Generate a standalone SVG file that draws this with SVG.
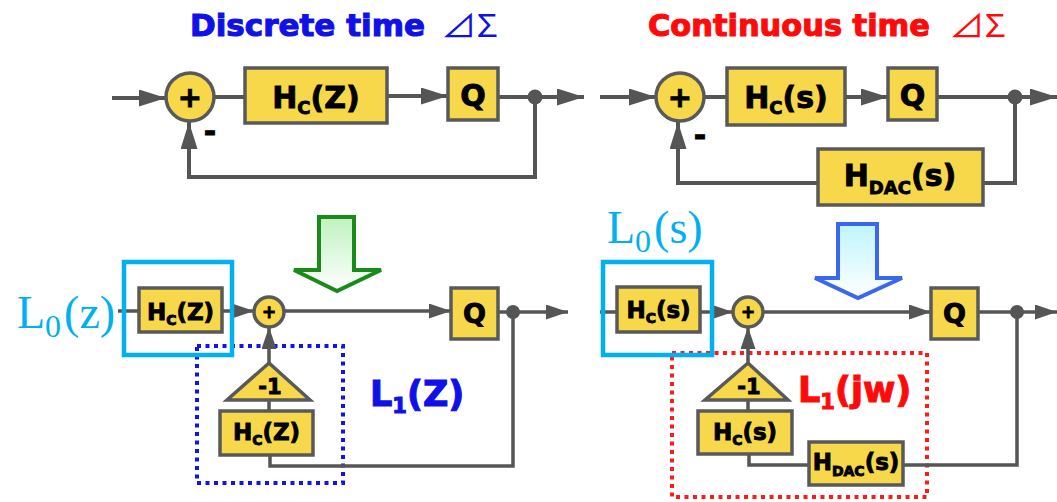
<svg xmlns="http://www.w3.org/2000/svg" width="1057" height="502" viewBox="0 0 1057 502">
<style>
.b{font-family:"DejaVu Sans","Liberation Sans",sans-serif;font-weight:bold;fill:#000;stroke:#000;stroke-width:0.9;text-anchor:middle}
.blk{fill:#f7d84a;stroke:#595959;stroke-width:3.5}
.ln{fill:none;stroke:#555;stroke-width:4;stroke-linejoin:miter}
.ln2{fill:none;stroke:#555;stroke-width:3.5}
.math{font-family:"Liberation Serif","DejaVu Serif",serif;fill:#00b0f0}
.cy{fill:none;stroke:#00b0f0;stroke-width:4.5}
.dot{fill:#555}
.ttl{font-family:"DejaVu Sans",sans-serif;font-weight:bold;font-size:30px;stroke-width:1.1}
.sym{font-family:"Noto Sans CJK JP","DejaVu Sans",sans-serif;font-size:31px}
</style>
<defs>
<marker id="a1" markerUnits="userSpaceOnUse" markerWidth="27" markerHeight="17" refX="27" refY="8.5" orient="auto"><path d="M0,0 L27,8.5 L0,17 z" fill="#555"/></marker>
<marker id="a2" markerUnits="userSpaceOnUse" markerWidth="22" markerHeight="15" refX="22" refY="7.5" orient="auto"><path d="M0,0 L22,7.5 L0,15 z" fill="#555"/></marker>
<linearGradient id="gg" x1="0" y1="0" x2="0" y2="1"><stop offset="0" stop-color="#bff2bf"/><stop offset="1" stop-color="#ffffff"/></linearGradient>
<linearGradient id="gb" x1="0" y1="0" x2="0" y2="1"><stop offset="0" stop-color="#bff5ff"/><stop offset="1" stop-color="#ffffff"/></linearGradient>
</defs>

<g id="titles">
<text class="ttl" x="190" y="36" fill="#1010e8" stroke="#1010e8" textLength="235" lengthAdjust="spacingAndGlyphs">Discrete time</text>
<text class="sym" x="441" y="37" fill="#1010e8" textLength="57" lengthAdjust="spacingAndGlyphs">⊿Σ</text>
<text class="ttl" x="648" y="36" fill="#ff0a0a" stroke="#ff0a0a" textLength="282" lengthAdjust="spacingAndGlyphs">Continuous time</text>
<text class="sym" x="949" y="37" fill="#ff0a0a" textLength="57" lengthAdjust="spacingAndGlyphs">⊿Σ</text>
</g>

<g id="regions">
<rect x="197" y="346" width="146" height="137" fill="none" stroke="#1212ee" stroke-width="4" stroke-dasharray="4 4.5"/>
<rect x="672" y="353" width="255" height="144" fill="none" stroke="#ff1a1a" stroke-width="4" stroke-dasharray="4 4.5"/>
</g>

<g id="connectors">
<path class="ln" d="M112,98 H166" marker-end="url(#a1)"/>
<path class="ln" d="M214,97 H245"/>
<path class="ln" d="M387,96 H448" marker-end="url(#a1)"/>
<path class="ln" d="M498,97 H584" marker-end="url(#a1)"/>
<path class="ln" d="M535,97 V177 H189 V122" marker-end="url(#a1)"/>
<path class="ln" d="M600,97 H656" marker-end="url(#a1)"/>
<path class="ln" d="M704,97 H727"/>
<path class="ln" d="M845,97 H888" marker-end="url(#a1)"/>
<path class="ln" d="M937,97 H1057" marker-end="url(#a1)"/>
<path class="ln" d="M1015,97 V183 H983"/>
<path class="ln" d="M818,183 H678 V122" marker-end="url(#a1)"/>
<path class="ln2" d="M118,311 H139"/>
<path class="ln2" d="M222,311 H254" marker-end="url(#a2)"/>
<path class="ln2" d="M284,311 H451" marker-end="url(#a2)"/>
<path class="ln2" d="M498,312 H568" marker-end="url(#a2)"/>
<path class="ln2" d="M513,312 V466 H270 V455"/>
<path class="ln2" d="M269,411 V400"/>
<path class="ln2" d="M269,363 V327" marker-end="url(#a2)"/>
<path class="ln2" d="M600,312 H617"/>
<path class="ln2" d="M700,312 H733" marker-end="url(#a2)"/>
<path class="ln2" d="M763,312 H931" marker-end="url(#a2)"/>
<path class="ln2" d="M978,312 H1057" marker-end="url(#a2)"/>
<path class="ln2" d="M1017,312 V465 H903"/>
<path class="ln2" d="M809,465 H749 V454"/>
<path class="ln2" d="M748,411 V400"/>
<path class="ln2" d="M748,363 V327" marker-end="url(#a2)"/>
<circle class="dot" cx="535" cy="97" r="7.5"/>
<circle class="dot" cx="1015" cy="97" r="7.5"/>
<circle class="dot" cx="513" cy="312" r="7"/>
<circle class="dot" cx="1017" cy="312" r="7"/>
</g>

<g id="sum-top-left">
<circle class="blk" cx="190" cy="97" r="24"/>
<text class="b" x="190" y="107" font-size="29">+</text>
<text class="b" x="210" y="142" font-size="30">-</text>
</g>
<g id="hc-top-left">
<rect class="blk" x="245" y="68" width="142" height="55"/>
<text class="b" x="316" y="108" font-size="30">H<tspan font-size="18" dy="6">C</tspan><tspan dy="-6">(Z)</tspan></text>
</g>
<g id="q-top-left">
<rect class="blk" x="448" y="68" width="50" height="52"/>
<text class="b" x="473" y="106" font-size="30">Q</text>
</g>

<g id="sum-top-right">
<circle class="blk" cx="680" cy="97" r="24"/>
<text class="b" x="680" y="107" font-size="29">+</text>
<text class="b" x="700" y="146" font-size="30">-</text>
</g>
<g id="hc-top-right">
<rect class="blk" x="727" y="68" width="118" height="57"/>
<text class="b" x="786" y="108" font-size="30">H<tspan font-size="18" dy="6">C</tspan><tspan dy="-6">(s)</tspan></text>
</g>
<g id="q-top-right">
<rect class="blk" x="888" y="68" width="49" height="52"/>
<text class="b" x="912.5" y="106" font-size="30">Q</text>
</g>
<g id="hdac-top">
<rect class="blk" x="818" y="149" width="165" height="56"/>
<text class="b" x="900" y="186" font-size="30">H<tspan font-size="18" dy="8">DAC</tspan><tspan dy="-8">(s)</tspan></text>
</g>

<g id="arrow-green">
<path d="M319,217 H354 V270 H381 L337,291 L294,270 H319 Z" fill="url(#gg)" stroke="#1a8a1a" stroke-width="4"/>
</g>
<g id="arrow-blue">
<path d="M838,224 H877 V278 H902 L858,298 L815,278 H838 Z" fill="url(#gb)" stroke="#3a66f0" stroke-width="4"/>
</g>

<g id="l0z">
<text class="math" x="17" y="328" font-size="46">L<tspan font-size="32" dy="9">0</tspan><tspan dy="-9" dx="3">(z)</tspan></text>
</g>
<g id="hc-bottom-left">
<rect class="blk" x="139" y="288" width="83" height="44"/>
<text class="b" x="180.5" y="320" font-size="23">H<tspan font-size="14" dy="5">C</tspan><tspan dy="-5">(Z)</tspan></text>
</g>
<g id="sum-bottom-left">
<circle class="blk" cx="269" cy="312" r="15"/>
<text class="b" x="269" y="318" font-size="17">+</text>
</g>
<g id="q-bottom-left">
<rect class="blk" x="451" y="288" width="47" height="51"/>
<text class="b" x="474.5" y="323" font-size="27">Q</text>
</g>
<g id="gain-bottom-left">
<path class="blk" d="M269,363 L310,400 L227,400 Z"/>
<text class="b" x="270" y="394" font-size="21">-1</text>
</g>
<g id="hc-fb-bottom-left">
<rect class="blk" x="220" y="411" width="93" height="44"/>
<text class="b" x="266.5" y="440" font-size="23">H<tspan font-size="14" dy="5">C</tspan><tspan dy="-5">(Z)</tspan></text>
</g>
<g id="l1z">
<text x="370" y="406" font-family="DejaVu Sans,sans-serif" font-weight="bold" font-size="35" fill="#1010e8" stroke="#1010e8" stroke-width="1.1">L<tspan font-size="21" dy="7">1</tspan><tspan dy="-7">(Z)</tspan></text>
</g>
<g id="l0z-box"><rect class="cy" x="124" y="262" width="108" height="93"/></g>

<g id="l0s">
<text class="math" x="607" y="243" font-size="46">L<tspan font-size="32" dy="9">0</tspan><tspan dy="-9" dx="3">(s)</tspan></text>
</g>
<g id="hc-bottom-right">
<rect class="blk" x="617" y="287" width="83" height="45"/>
<text class="b" x="658.5" y="318" font-size="23">H<tspan font-size="14" dy="5">C</tspan><tspan dy="-5">(s)</tspan></text>
</g>
<g id="sum-bottom-right">
<circle class="blk" cx="748" cy="312" r="15"/>
<text class="b" x="748" y="318" font-size="17">+</text>
</g>
<g id="q-bottom-right">
<rect class="blk" x="931" y="288" width="47" height="51"/>
<text class="b" x="954.5" y="323" font-size="27">Q</text>
</g>
<g id="gain-bottom-right">
<path class="blk" d="M748,363 L788,400 L705,400 Z"/>
<text class="b" x="749" y="394" font-size="21">-1</text>
</g>
<g id="hc-fb-bottom-right">
<rect class="blk" x="698" y="411" width="94" height="43"/>
<text class="b" x="745" y="440" font-size="23">H<tspan font-size="14" dy="5">C</tspan><tspan dy="-5">(s)</tspan></text>
</g>
<g id="hdac-bottom">
<rect class="blk" x="809" y="442" width="94" height="43"/>
<text class="b" x="856" y="470" font-size="23">H<tspan font-size="14" dy="6">DAC</tspan><tspan dy="-6">(s)</tspan></text>
</g>
<g id="l1jw">
<text x="798" y="402" font-family="DejaVu Sans,sans-serif" font-weight="bold" font-size="35" fill="#ff0a0a" stroke="#ff0a0a" stroke-width="1.1">L<tspan font-size="21" dy="7">1</tspan><tspan dy="-7">(jw)</tspan></text>
</g>
<g id="l0s-box"><rect class="cy" x="603" y="262" width="109" height="93"/></g>
</svg>
